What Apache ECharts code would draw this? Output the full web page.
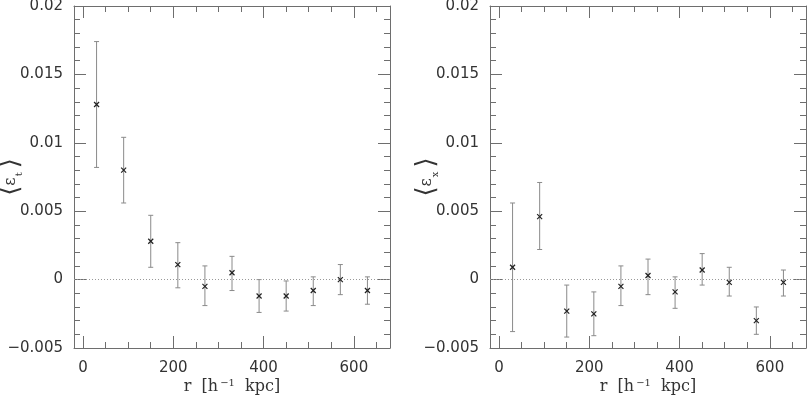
<!DOCTYPE html>
<html>
<head>
<meta charset="utf-8">
<script src="https://cdn.jsdelivr.net/npm/echarts@6/dist/echarts.min.js"></script>
<style>
  html, body { margin: 0; padding: 0; background: #fff; }
  #chart { width: 807px; height: 398px; }
</style>
</head>
<body>
<div id="chart"></div>
<script>
// radial bins (h^-1 kpc)
var rBins = [30, 90, 150, 210, 270, 330, 390, 450, 510, 570, 630];

// left panel: <e_t>
var etMean = [0.0128, 0.0080, 0.0028, 0.0011, -0.0005, 0.0005, -0.0012, -0.0012, -0.0008, 0.0000, -0.0008];
var etLow  = [0.0082, 0.0056, 0.0009, -0.0006, -0.0019, -0.0008, -0.0024, -0.0023, -0.0019, -0.0011, -0.0018];
var etHigh = [0.0174, 0.0104, 0.0047, 0.0027, 0.0010, 0.0017, 0.0000, -0.0001, 0.0002, 0.0011, 0.0002];

// right panel: <e_x>
var exMean = [0.0009, 0.0046, -0.0023, -0.0025, -0.0005, 0.0003, -0.0009, 0.0007, -0.0002, -0.0030, -0.0002];
var exLow  = [-0.0038, 0.0022, -0.0042, -0.0041, -0.0019, -0.0011, -0.0021, -0.0004, -0.0012, -0.0040, -0.0012];
var exHigh = [0.0056, 0.0071, -0.0004, -0.0009, 0.0010, 0.0015, 0.0002, 0.0019, 0.0009, -0.0020, 0.0007];

var xMajor = [0, 200, 400, 600];
var xMinor = [0, 50, 100, 150, 200, 250, 300, 350, 400, 450, 500, 550, 600, 650];
var yTickValues = [-0.005, 0, 0.005, 0.01, 0.015, 0.02];
var yTickLabels = ['\u22120.005', '0', '0.005', '0.01', '0.015', '0.02'];

var frameColor = '#6e6e6e';
var labelFont = 'DejaVu Sans';
var titleFont = 'DejaVu Serif';

var grids = [
    { left: 74, top: 6, width: 316, height: 342, outerBoundsMode: 'none', containLabel: false },
    { left: 490, top: 6, width: 316, height: 342, outerBoundsMode: 'none', containLabel: false }
];

function yLabel(v) {
    for (var i = 0; i < yTickValues.length; i++) {
        if (Math.abs(yTickValues[i] - v) < 1e-9) return yTickLabels[i];
    }
    return '';
}

function makeX(g, pos, ticks, len, withLabels) {
    return {
        type: 'value', gridIndex: g, position: pos, min: -20, max: 680,
        axisLine: { show: len > 6, onZero: false, lineStyle: { color: frameColor, width: 1 } },
        axisTick: { show: true, inside: true, length: len, customValues: ticks,
                    lineStyle: { color: frameColor, width: 1 } },
        axisLabel: withLabels ? {
            show: true, customValues: xMajor, margin: 13,
            color: '#333', fontFamily: labelFont, fontSize: 15
        } : { show: false },
        splitLine: { show: false },
        name: withLabels ? '{n|r  [h}{s|\u22121}{n|  kpc]}' : '',
        nameLocation: 'middle', nameGap: 30, nameMoveOverlap: false,
        nameTextStyle: {
            rich: {
                n: { fontFamily: titleFont, fontSize: 16, color: '#333' },
                s: { fontFamily: titleFont, fontSize: 10, color: '#333', verticalAlign: 'top', padding: [0, 0, 8, 2] }
            }
        }
    };
}

function makeY(g, pos, withLabels, sub) {
    return {
        type: 'value', gridIndex: g, position: pos, min: -0.005, max: 0.02, interval: 0.005,
        axisLine: { show: true, onZero: false, lineStyle: { color: frameColor, width: 1 } },
        axisTick: { show: true, inside: true, length: 12, lineStyle: { color: frameColor } },
        minorTick: { show: true, splitNumber: 5, length: 6, lineStyle: { color: frameColor } },
        axisLabel: withLabels ? {
            show: true, margin: 11, showMinLabel: true, showMaxLabel: true,
            color: '#333', fontFamily: labelFont, fontSize: 15,
            formatter: yLabel
        } : { show: false },
        splitLine: { show: false },
        name: withLabels ? '{b|\u27e8}{e|\u03b5}{s|' + sub + '}{b|\u27e9}' : '',
        nameLocation: 'middle', nameRotate: 90, nameGap: 50, nameMoveOverlap: false,
        nameTextStyle: {
            rich: {
                b: { fontFamily: titleFont, fontSize: 26, color: '#333' },
                e: { fontFamily: titleFont, fontSize: 16, color: '#333' },
                s: { fontFamily: titleFont, fontSize: 10, color: '#333', verticalAlign: 'bottom', padding: [6, 4, 0, 1] }
            }
        }
    };
}

function errSeries(g, mean, low, high) {
    var data = [];
    for (var i = 0; i < rBins.length; i++) {
        data.push([rBins[i], mean[i], low[i], high[i]]);
    }
    return {
        type: 'custom',
        xAxisIndex: g * 4, yAxisIndex: g * 2,
        data: data,
        clip: true,
        renderItem: function (params, api) {
            var x = api.value(0);
            var c = api.coord([x, api.value(1)]);
            var lo = api.coord([x, api.value(2)]);
            var hi = api.coord([x, api.value(3)]);
            var cap = 2.5, m = 2.5;
            var barStyle = { stroke: '#8a8a8a', lineWidth: 1 };
            var mkStyle = { stroke: '#222', lineWidth: 1.2 };
            return {
                type: 'group',
                children: [
                    { type: 'line', shape: { x1: lo[0], y1: lo[1], x2: hi[0], y2: hi[1] }, style: barStyle },
                    { type: 'line', shape: { x1: lo[0] - cap, y1: lo[1], x2: lo[0] + cap, y2: lo[1] }, style: barStyle },
                    { type: 'line', shape: { x1: hi[0] - cap, y1: hi[1], x2: hi[0] + cap, y2: hi[1] }, style: barStyle },
                    { type: 'line', shape: { x1: c[0] - m, y1: c[1] - m, x2: c[0] + m, y2: c[1] + m }, style: mkStyle },
                    { type: 'line', shape: { x1: c[0] - m, y1: c[1] + m, x2: c[0] + m, y2: c[1] - m }, style: mkStyle }
                ]
            };
        },
        markLine: {
            silent: true, symbol: 'none', label: { show: false },
            lineStyle: { type: [1, 2], color: '#999', width: 1 },
            data: [{ yAxis: 0 }]
        },
        z: 3
    };
}

var xAxes = [], yAxes = [];
for (var g = 0; g < 2; g++) {
    xAxes.push(makeX(g, 'bottom', xMajor, 12, true));
    xAxes.push(makeX(g, 'bottom', xMinor, 6, false));
    xAxes.push(makeX(g, 'top', xMajor, 12, false));
    xAxes.push(makeX(g, 'top', xMinor, 6, false));
    yAxes.push(makeY(g, 'left', true, g === 0 ? 't' : 'x'));
    yAxes.push(makeY(g, 'right', false, ''));
}

var myChart = echarts.init(document.getElementById('chart'));
var option = {
    backgroundColor: '#fff',
    animation: false,
    grid: grids,
    xAxis: xAxes,
    yAxis: yAxes,
    series: [
        errSeries(0, etMean, etLow, etHigh),
        errSeries(1, exMean, exLow, exHigh)
    ]
};
myChart.setOption(option);
</script>
</body>
</html>
